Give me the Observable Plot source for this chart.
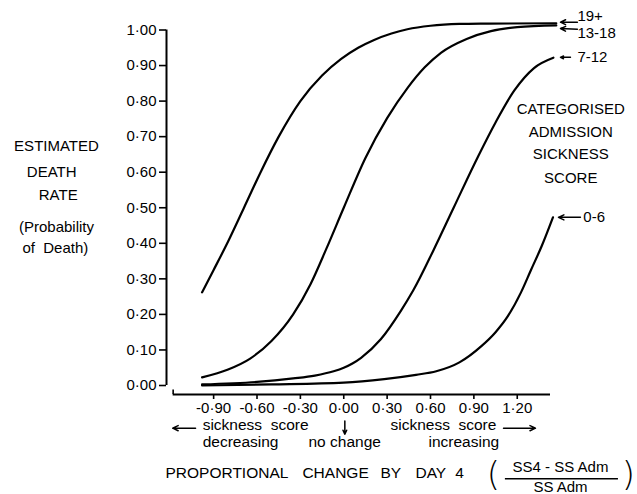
<!DOCTYPE html>
<html>
<head>
<meta charset="utf-8">
<script src="https://cdn.jsdelivr.net/npm/d3@7"></script>
<script src="https://cdn.jsdelivr.net/npm/@observablehq/plot@0.6"></script>
<style>
  html, body { margin: 0; padding: 0; background: #fff; }
  svg { overflow: visible; }
</style>
</head>
<body>
<div id="chart"></div>
<script>
// ---- tick labels ----
const xTicks = [-0.9, -0.6, -0.3, 0, 0.3, 0.6, 0.9, 1.2];
const yTicks = [0, 0.1, 0.2, 0.3, 0.4, 0.5, 0.6, 0.7, 0.8, 0.9, 1.0];

// ---- categories ----
const groups = ["19+", "13-18", "7-12", "0-6"];

// ---- series values ----
const x19 = [-0.98, -0.90, -0.80, -0.69, -0.575, -0.45, -0.30, -0.15, -0.02, 0.10, 0.21, 0.33, 0.44, 0.60, 0.80, 1.00, 1.47];
const y19 = [0.262, 0.325, 0.405, 0.50, 0.600, 0.700, 0.800, 0.872, 0.918, 0.950, 0.972, 0.990, 1.002, 1.012, 1.017, 1.018, 1.019];

const x13 = [-0.98, -0.80, -0.65, -0.50, -0.35, -0.23, -0.12, 0.00, 0.15, 0.30, 0.443, 0.56, 0.672, 0.85, 1.018, 1.20, 1.47];
const y13 = [0.023, 0.045, 0.075, 0.125, 0.200, 0.285, 0.385, 0.500, 0.640, 0.752, 0.838, 0.895, 0.936, 0.975, 0.997, 1.008, 1.013];

const x7 = [-0.98, -0.6, -0.35, -0.2, -0.07, 0.0, 0.06, 0.12, 0.256, 0.395, 0.48, 0.62, 0.76, 0.93, 1.05, 1.18, 1.316, 1.45];
const y7 = [0.003, 0.010, 0.020, 0.028, 0.040, 0.050, 0.062, 0.078, 0.130, 0.210, 0.267, 0.380, 0.500, 0.645, 0.740, 0.830, 0.893, 0.922];

const x0 = [-0.98, -0.5, 0.0, 0.28, 0.50, 0.64, 0.80, 0.95, 1.05, 1.135, 1.226, 1.295, 1.37, 1.447];
const y0 = [0.0, 0.003, 0.008, 0.018, 0.030, 0.040, 0.065, 0.110, 0.150, 0.195, 0.262, 0.325, 0.393, 0.473];

const seriesX = [x19, x13, x7, x0];
const seriesY = [y19, y13, y7, y0];

const curves = groups.flatMap((g, i) =>
  seriesX[i].map((x, j) => ({group: g, x, y: seriesY[i][j]})));

// ---- legend labels at curve ends ----
const legendLabels = [
  {text: "19+",   x: 1.616, y: 1.040},
  {text: "13-18", x: 1.616, y: 0.990},
  {text: "7-12",  x: 1.616, y: 0.923},
  {text: "0-6",   x: 1.657, y: 0.473}
];
const legendArrows = [
  {x1: 1.616, y1: 1.022, x2: 1.499, y2: 1.022},
  {x1: 1.616, y1: 1.002, x2: 1.499, y2: 1.004},
  {x1: 1.568, y1: 0.923, x2: 1.499, y2: 0.923},
  {x1: 1.637, y1: 0.473, x2: 1.485, y2: 0.473}
];

// ---- text blocks ----
const rightBlock = [
  {text: "CATEGORISED", x: 1.57, y: 0.776},
  {text: "ADMISSION",   x: 1.57, y: 0.712},
  {text: "SICKNESS",    x: 1.57, y: 0.650},
  {text: "SCORE",       x: 1.57, y: 0.582}
];
const leftBlock = [
  {text: "ESTIMATED",    x: -1.987, y: 0.672},
  {text: "DEATH",        x: -2.02,  y: 0.599},
  {text: "RATE",         x: -1.975, y: 0.534},
  {text: "(Probability", x: -1.987, y: 0.444},
  {text: "of  Death)",   x: -1.995, y: 0.385}
];
const bottomWords = [
  {text: "sickness  score", x: -0.976, y: -0.1125},
  {text: "decreasing",      x: -0.976, y: -0.160},
  {text: "no change",       x: -0.244, y: -0.160},
  {text: "sickness  score", x: 0.323,  y: -0.1125},
  {text: "increasing",      x: 0.586,  y: -0.160},
  {text: "PROPORTIONAL",    x: -1.233, y: -0.2475},
  {text: "CHANGE",          x: -0.286, y: -0.2475},
  {text: "BY",              x: 0.254,  y: -0.2475},
  {text: "DAY",             x: 0.496,  y: -0.2475},
  {text: "4",               x: 0.772,  y: -0.2475}
];
const bottomArrows = [
  {x1: -1.025, y1: -0.120, x2: -1.183, y2: -0.120},
  {x1: 0.0075, y1: -0.100, x2: 0.0075, y2: -0.137},
  {x1: 1.105,  y1: -0.120, x2: 1.326,  y2: -0.120}
];
const fraction = [
  {text: "SS4 - SS Adm", x: 1.499, y: -0.229},
  {text: "SS Adm",       x: 1.499, y: -0.286}
];
const parens = [
  {text: "(", x: 1.035, y: -0.252},
  {text: ")", x: 1.969, y: -0.252}
];

const fmt = d => (d < 0 ? "-" : "") + Math.abs(d).toFixed(2).replace(".", "·");

const xMin = -1.226, xMax = 1.43, xAxisStart = -1.18, xAxisY = -0.0253;

const chart = Plot.plot({
  width: 637,
  height: 494,
  marginLeft: 166,
  marginRight: 87,
  marginTop: 20,
  marginBottom: 100,
  x: {domain: [xMin, xMax], range: [166, 550]},
  y: {domain: [0, 1], range: [385, 29.5]},
  style: {fontFamily: "'Liberation Sans', Arial, sans-serif", fontSize: "15px", color: "black", background: "white", overflow: "visible"},
  marks: [
    Plot.axisY(yTicks, {anchor: "left", tickSize: 7, tickPadding: 3, tickFormat: fmt, label: null, fontSize: 15, strokeWidth: 1.6}),
    Plot.axisX(xTicks, {anchor: "bottom", tickSize: 5, tickPadding: 3, tickFormat: fmt, label: null, fontSize: 15, strokeWidth: 1.6}),
    Plot.ruleX([xMin], {y1: 0, y2: 1, stroke: "black", strokeWidth: 2}),
    Plot.ruleY([xAxisY], {x1: xAxisStart, x2: xMax, stroke: "black", strokeWidth: 2}),
    Plot.ruleX([xAxisStart], {y1: xAxisY, y2: -0.013, stroke: "black", strokeWidth: 1.6}),
    Plot.line(curves, {x: "x", y: "y", z: "group", stroke: "black", strokeWidth: 2.2, curve: "monotone-x"}),
    Plot.arrow(legendArrows, {x1: "x1", y1: "y1", x2: "x2", y2: "y2", stroke: "black", strokeWidth: 1.5, headLength: 6, headAngle: 50}),
    Plot.text(legendLabels, {x: "x", y: "y", text: "text", textAnchor: "start", fontSize: 15, fill: "black"}),
    Plot.text(rightBlock, {x: "x", y: "y", text: "text", textAnchor: "middle", fontSize: 15, fill: "black"}),
    Plot.text(leftBlock, {x: "x", y: "y", text: "text", textAnchor: "middle", fontSize: 15, fill: "black"}),
    Plot.text(bottomWords, {x: "x", y: "y", text: "text", textAnchor: "start", fontSize: 15.5, fill: "black"}),
    Plot.arrow(bottomArrows, {x1: "x1", y1: "y1", x2: "x2", y2: "y2", stroke: "black", strokeWidth: 1.5, headLength: 6, headAngle: 50}),
    Plot.text(fraction, {x: "x", y: "y", text: "text", textAnchor: "middle", fontSize: 15, fill: "black"}),
    Plot.ruleY([-0.262], {x1: 1.118, x2: 1.90, stroke: "black", strokeWidth: 1.5}),
    Plot.text(parens, {x: "x", y: "y", text: "text", textAnchor: "middle", fontSize: 34, fontFamily: "'DejaVu Sans'", fontWeight: 200, fill: "black"})
  ]
});
document.getElementById("chart").appendChild(chart);
</script>
</body>
</html>
